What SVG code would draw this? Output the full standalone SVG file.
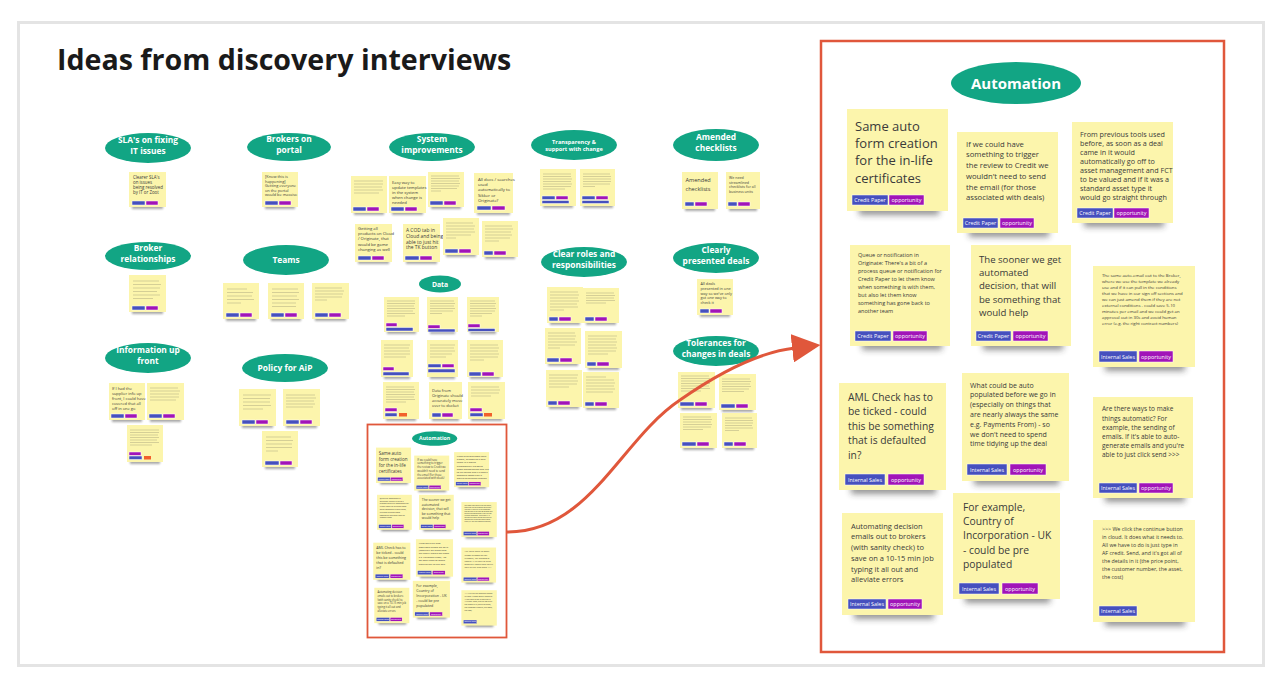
<svg xmlns="http://www.w3.org/2000/svg" width="1280" height="688" viewBox="0 0 1280 688">
<defs>
<filter id="bl" x="-30%" y="-200%" width="160%" height="500%"><feGaussianBlur stdDeviation="3"/></filter>
<filter id="bls" x="-30%" y="-200%" width="160%" height="500%"><feGaussianBlur stdDeviation="1.2"/></filter>
<marker id="ah" viewBox="0 0 10 10" refX="1" refY="5" markerWidth="9.5" markerHeight="9.5" markerUnits="strokeWidth" orient="auto"><path d="M0,0 L10,5 L0,10 z" fill="#E0573B"/></marker>
<style>
.n{fill:#FCF5AC}
.s{fill:#2a2a2a;opacity:.5;filter:url(#bl)}
.ss{fill:#2a2a2a;opacity:.4;filter:url(#bls)}
.b{fill:#4650BE;stroke:#fff;stroke-width:.5}
.p{fill:#A114B8;stroke:#fff;stroke-width:.5}
.o{fill:#F2602B}
.v{fill:#12A584}
.vt{fill:#fff;font-family:'Open Sans',sans-serif;font-weight:700;text-anchor:middle}
.t{font-family:'Open Sans',sans-serif;fill:#3a3a3a}
.tg{font-family:'Open Sans',sans-serif;fill:#fff;font-size:5.4px;text-anchor:middle}
.fl{stroke:#8f8b70;stroke-width:.8;opacity:.45;fill:none}
.fr{fill:#fff;stroke:#E0573B}
</style>
</defs>
<rect width="1280" height="688" fill="#fff"/>
<rect x="18.5" y="22.5" width="1245" height="643" fill="#fff" stroke="#E4E4E4" stroke-width="3"/>
<text x="57" y="70" font-family="'Open Sans',sans-serif" font-weight="700" font-size="28.6" fill="#1a1a1a">Ideas from discovery interviews</text>

<!-- left board ovals -->
<g id="o-sla"><ellipse class="v" cx="148" cy="148" rx="43" ry="15"/><text class="vt" font-size="8.4" x="148" y="143">SLA's on fixing<tspan x="148" dy="11">IT issues</tspan></text></g>
<g id="o-brokers-portal"><ellipse class="v" cx="289" cy="147" rx="42" ry="14"/><text class="vt" font-size="8.4" x="289" y="142">Brokers on<tspan x="289" dy="11">portal</tspan></text></g>
<g id="o-system"><ellipse class="v" cx="432" cy="147" rx="43" ry="14"/><text class="vt" font-size="8.4" x="432" y="142">System<tspan x="432" dy="11">improvements</tspan></text></g>
<g id="o-transparency"><ellipse class="v" cx="574" cy="145" rx="43" ry="15"/><text class="vt" font-size="5.6" x="574" y="143.5">Transparency &amp;<tspan x="574" dy="7.6">support with change</tspan></text></g>
<g id="o-amended"><ellipse class="v" cx="716" cy="145" rx="43" ry="16"/><text class="vt" font-size="8.4" x="716" y="140">Amended<tspan x="716" dy="11">checklists</tspan></text></g>
<g id="o-broker-rel"><ellipse class="v" cx="148" cy="256" rx="43" ry="14"/><text class="vt" font-size="8.4" x="148" y="251">Broker<tspan x="148" dy="11">relationships</tspan></text></g>
<g id="o-teams"><ellipse class="v" cx="286" cy="260" rx="43" ry="15"/><text class="vt" font-size="8.4" x="286" y="263">Teams</text></g>
<g id="o-clear-roles"><ellipse class="v" cx="584" cy="262" rx="43" ry="15"/><text class="vt" font-size="8.4" x="584" y="257">Clear roles and<tspan x="584" dy="11">responsibilities</tspan></text></g>
<g id="o-clearly"><ellipse class="v" cx="716" cy="258" rx="43" ry="15"/><text class="vt" font-size="8.4" x="716" y="253">Clearly<tspan x="716" dy="11">presented deals</tspan></text></g>
<g id="o-data"><ellipse class="v" cx="440" cy="284" rx="21" ry="8.5"/><text class="vt" font-size="6.8" x="440" y="286.5">Data</text></g>
<g id="o-info"><ellipse class="v" cx="148" cy="358" rx="43" ry="15"/><text class="vt" font-size="8.4" x="148" y="353">Information up<tspan x="148" dy="11">front</tspan></text></g>
<g id="o-policy"><ellipse class="v" cx="285" cy="368" rx="43" ry="14"/><text class="vt" font-size="8.4" x="285" y="371">Policy for AiP</text></g>
<g id="o-tolerances"><ellipse class="v" cx="716" cy="351" rx="43" ry="15"/><text class="vt" font-size="8.4" x="716" y="346">Tolerances for<tspan x="716" dy="11">changes in deals</tspan></text></g>

<!-- left board stickies -->
<g id="s-sla-1" transform="translate(129,172)"><rect class="ss" x="3" y="33" width="31" height="4"/><rect class="n" width="37" height="35"/><text class="t" font-size="4.4" x="4" y="7">Clearer SLA's<tspan x="4" dy="5">on issues</tspan><tspan x="4" dy="5">being resolved</tspan><tspan x="4" dy="5">by IT or Zoot</tspan></text><rect class="b" x="3" y="29" width="13" height="4"/><rect class="p" x="17" y="29" width="12" height="4"/></g>
<g id="s-portal-1" transform="translate(262,172)"><rect class="ss" x="3" y="33" width="30" height="4"/><rect class="n" width="36" height="35"/><text class="t" font-size="3.9" x="3" y="6">[Know this is<tspan x="3" dy="4.6">happening]</tspan><tspan x="3" dy="4.6">Getting everyone</tspan><tspan x="3" dy="4.6">on the portal</tspan><tspan x="3" dy="4.6">would be massive</tspan></text><rect class="b" x="3" y="29" width="13" height="4"/><rect class="p" x="17" y="29" width="12" height="4"/></g>
<g id="s-brel-1" transform="translate(129,275)"><rect class="ss" x="3" y="35" width="31" height="4"/><rect class="n" width="37" height="37"/><path class="fl" d="M4 6h26M4 9.5h28M4 13h27M4 16.5h24M4 20h27M4 23.5h20"/><rect class="b" x="3" y="31" width="13" height="4"/><rect class="p" x="17" y="31" width="12" height="4"/></g>
<g id="s-teams-1" transform="translate(223,283)"><rect class="ss" x="3" y="34" width="30" height="4"/><rect class="n" width="36" height="36"/><path class="fl" d="M4 6h20M4 9.5h26M4 13h25M4 16.5h27M4 20h14"/><rect class="b" x="3" y="30" width="13" height="4"/><rect class="p" x="17" y="30" width="12" height="4"/></g>
<g id="s-teams-2" transform="translate(268,283)"><rect class="ss" x="3" y="34" width="30" height="4"/><rect class="n" width="36" height="36"/><path class="fl" d="M4 6h26M4 9.5h27M4 13h25M4 16.5h27M4 20h24M4 23.5h24"/><rect class="b" x="3" y="30" width="13" height="4"/><rect class="p" x="17" y="30" width="12" height="4"/></g>
<g id="s-teams-3" transform="translate(312,283)"><rect class="ss" x="3" y="34" width="31" height="4"/><rect class="n" width="37" height="36"/><path class="fl" d="M3 5h27M3 8h29M3 11h28M3 14h27M3 17h12"/><rect class="b" x="3" y="30" width="13" height="4"/><rect class="p" x="17" y="30" width="12" height="4"/></g>
<g id="s-info-1" transform="translate(109,383)"><rect class="ss" x="3" y="35" width="30" height="4"/><rect class="n" width="36" height="37"/><text class="t" font-size="4" x="3" y="7">If I had the<tspan x="3" dy="5">supplier info up</tspan><tspan x="3" dy="5">front, I could have</tspan><tspan x="3" dy="5">covered that all</tspan><tspan x="3" dy="5">off in one go</tspan></text><rect class="b" x="2" y="31" width="13" height="4"/><rect class="p" x="16" y="31" width="12" height="4"/></g>
<g id="s-info-2" transform="translate(147,383)"><rect class="ss" x="3" y="35" width="31" height="4"/><rect class="n" width="37" height="37"/><path class="fl" d="M3 5h28M3 8h30M3 11h29M3 14h29M3 17h26"/><rect class="b" x="2" y="31" width="13" height="4"/><rect class="p" x="16" y="31" width="12" height="4"/></g>
<g id="s-info-3" transform="translate(127,425)"><rect class="ss" x="3" y="35" width="30" height="4"/><rect class="n" width="36" height="37"/><path class="fl" d="M3 5h29M3 7.5h29M3 10h28M3 12.5h29M3 15h27M3 17.5h29M3 20h22"/><rect class="p" x="2" y="27" width="12" height="3.5"/><rect class="b" x="2" y="31" width="13" height="3.5"/><rect class="o" x="17" y="31" width="7" height="3.5"/></g>
<g id="s-policy-1" transform="translate(239,389)"><rect class="ss" x="3" y="35" width="31" height="4"/><rect class="n" width="37" height="37"/><path class="fl" d="M4 6h28M4 9.5h27M4 13h27M4 16.5h28M4 20h20"/><rect class="b" x="3" y="31" width="13" height="4"/><rect class="p" x="17" y="31" width="12" height="4"/></g>
<g id="s-policy-2" transform="translate(283,389)"><rect class="ss" x="3" y="35" width="31" height="4"/><rect class="n" width="37" height="37"/><path class="fl" d="M3 6h29M3 9h30M3 12h28M3 15h29M3 18h27"/><rect class="b" x="3" y="31" width="13" height="4"/><rect class="p" x="17" y="31" width="12" height="4"/></g>
<g id="s-policy-3" transform="translate(262,431)"><rect class="ss" x="3" y="34" width="30" height="4"/><rect class="n" width="36" height="36"/><path class="fl" d="M4 6h25M4 9.5h27M4 13h26M4 16.5h26M4 20h12"/><rect class="b" x="3" y="30" width="14" height="4"/><rect class="p" x="18" y="30" width="12" height="4"/></g>
<g id="s-sys-1" transform="translate(351,176)"><rect class="ss" x="3" y="35" width="30" height="4"/><rect class="n" width="36" height="37"/><path class="fl" d="M3 5h29M3 8h29M3 11h28M3 14h29M3 17h25"/><rect class="b" x="2" y="31" width="13" height="4"/><rect class="p" x="16" y="31" width="12" height="4"/></g>
<g id="s-sys-2" transform="translate(389,176)"><rect class="ss" x="3" y="35" width="31" height="4"/><rect class="n" width="37" height="37"/><text class="t" font-size="4.2" x="3" y="7.5">Easy way to<tspan x="3" dy="5">update templates</tspan><tspan x="3" dy="5">in the system</tspan><tspan x="3" dy="5">when change is</tspan><tspan x="3" dy="5">needed</tspan></text><rect class="b" x="2" y="31" width="13" height="4"/><rect class="p" x="16" y="31" width="12" height="4"/></g>
<g id="s-sys-3" transform="translate(428,172)"><rect class="ss" x="3" y="33" width="30" height="4"/><rect class="n" width="36" height="35"/><path class="fl" d="M3 4h28M3 6.5h29M3 9h28M3 11.5h29M3 14h28M3 16.5h26M3 19h10"/><rect class="b" x="2" y="29" width="13" height="4"/><rect class="p" x="16" y="29" width="12" height="4"/></g>
<g id="s-sys-4" transform="translate(474,173)"><rect class="ss" x="3" y="38" width="33" height="4"/><rect class="n" width="39" height="40"/><text class="t" font-size="4.3" x="4" y="8">All docs / searches<tspan x="4" dy="5.2">used</tspan><tspan x="4" dy="5.2">automatically to</tspan><tspan x="4" dy="5.2">Sikker or</tspan><tspan x="4" dy="5.2">Originate?</tspan></text><rect class="b" x="3" y="33" width="14" height="4"/><rect class="p" x="18" y="33" width="13" height="4"/></g>
<g id="s-sys-5" transform="translate(355,224)"><rect class="ss" x="3" y="36" width="31" height="4"/><rect class="n" width="37" height="38"/><text class="t" font-size="4.2" x="3" y="6">Getting all<tspan x="3" dy="5.2">products on Cloud</tspan><tspan x="3" dy="5.2">/ Originate, that</tspan><tspan x="3" dy="5.2">would be game</tspan><tspan x="3" dy="5.2">changing as well</tspan></text><rect class="b" x="3" y="32" width="13" height="4"/><rect class="p" x="17" y="32" width="12" height="4"/></g>
<g id="s-sys-6" transform="translate(403,224)"><rect class="ss" x="3" y="36" width="31" height="4"/><rect class="n" width="37" height="38"/><text class="t" font-size="4.9" x="3" y="8">A COD tab in<tspan x="3" dy="5.8">Cloud and being</tspan><tspan x="3" dy="5.8">able to just hit</tspan><tspan x="3" dy="5.8">the TK button</tspan></text><rect class="b" x="2" y="32" width="14" height="4"/><rect class="p" x="17" y="32" width="12" height="4"/></g>
<g id="s-sys-7" transform="translate(443,218)"><rect class="ss" x="3" y="35" width="30" height="4"/><rect class="n" width="36" height="37"/><path class="fl" d="M3 5h27M3 8h29M3 11h28M3 14h29M3 17h25M3 20h10"/><rect class="b" x="2" y="31" width="13" height="4"/><rect class="p" x="16" y="31" width="12" height="4"/></g>
<g id="s-sys-8" transform="translate(482,221)"><rect class="ss" x="3" y="34" width="30" height="4"/><rect class="n" width="36" height="36"/><path class="fl" d="M3 5h27M3 8h28M3 11h26M3 14h27M3 17h25M3 20h14"/><rect class="b" x="2" y="30" width="9" height="4"/><rect class="p" x="12" y="30" width="12" height="4"/></g>
<g id="s-tr-1" transform="translate(540,169)"><rect class="ss" x="3" y="35" width="30" height="4"/><rect class="n" width="36" height="37"/><path class="fl" d="M3 5h28M3 7.5h28M3 10h29M3 12.5h28M3 15h29M3 17.5h28M3 20h22"/><rect class="b" x="2" y="27" width="13" height="3.5"/><rect class="p" x="16" y="27" width="12" height="3.5"/><rect class="b" x="2" y="31.5" width="27" height="3"/></g>
<g id="s-tr-2" transform="translate(580,169)"><rect class="ss" x="3" y="35" width="30" height="4"/><rect class="n" width="35" height="37"/><path class="fl" d="M3 5h27M3 7.5h28M3 10h28M3 12.5h28M3 15h27M3 17.5h12"/><rect class="b" x="2" y="27" width="13" height="3.5"/><rect class="p" x="16" y="27" width="12" height="3.5"/><rect class="b" x="2" y="31.5" width="27" height="3"/></g>
<g id="s-am-1" transform="translate(682,172)"><rect class="ss" x="3" y="35" width="30" height="4"/><rect class="n" width="36" height="37"/><text class="t" font-size="5.6" x="3.5" y="10">Amended<tspan x="3.5" dy="9">checklists</tspan></text><rect class="b" x="3" y="30" width="9" height="4"/><rect class="p" x="13" y="30" width="12" height="4"/></g>
<g id="s-am-2" transform="translate(726,172)"><rect class="ss" x="3" y="35" width="28" height="4"/><rect class="n" width="34" height="37"/><text class="t" font-size="3.6" x="3" y="7">We need<tspan x="3" dy="4.6">streamlined</tspan><tspan x="3" dy="4.6">checklists for all</tspan><tspan x="3" dy="4.6">business units</tspan></text><rect class="b" x="2" y="30" width="9" height="4"/><rect class="p" x="12" y="30" width="12" height="4"/></g>
<g id="s-cr-1" transform="translate(547,287)"><rect class="ss" x="3" y="34" width="30" height="4"/><rect class="n" width="36" height="36"/><path class="fl" d="M3 5h28M3 8h29M3 11h28M3 14h29M3 17h27M3 20h28M3 23h14"/><rect class="b" x="2" y="30" width="9" height="4"/><rect class="p" x="12" y="30" width="12" height="4"/></g>
<g id="s-cr-2" transform="translate(583,288)"><rect class="ss" x="3" y="33" width="30" height="4"/><rect class="n" width="36" height="35"/><path class="fl" d="M3 5h28M3 7.5h29M3 10h28M3 12.5h29M3 15h20"/><rect class="b" x="2" y="29" width="9" height="4"/><rect class="p" x="12" y="29" width="12" height="4"/></g>
<g id="s-cr-3" transform="translate(545,328)"><rect class="ss" x="3" y="34" width="30" height="4"/><rect class="n" width="36" height="36"/><path class="fl" d="M3 5h27M3 8h28M3 11h27M3 14h29M3 17h27M3 20h12"/><rect class="b" x="2" y="30" width="12" height="4"/><rect class="p" x="15" y="30" width="12" height="4"/></g>
<g id="s-cr-4" transform="translate(585,331)"><rect class="ss" x="3" y="35" width="31" height="4"/><rect class="n" width="37" height="37"/><path class="fl" d="M3 5h29M3 8h28M3 11h29M3 14h28M3 17h29M3 20h28M3 23h20"/><rect class="b" x="2" y="31" width="9" height="4"/><rect class="p" x="12" y="31" width="12" height="4"/></g>
<g id="s-cr-5" transform="translate(546,370)"><rect class="ss" x="3" y="35" width="30" height="4"/><rect class="n" width="36" height="37"/><path class="fl" d="M3 5h29M3 8h28M3 11h29M3 14h28M3 17h20"/><rect class="b" x="2" y="31" width="9" height="4"/><rect class="p" x="12" y="31" width="12" height="4"/></g>
<g id="s-cr-6" transform="translate(583,372)"><rect class="ss" x="3" y="34" width="30" height="4"/><rect class="n" width="36" height="36"/><path class="fl" d="M3 5h20M3 8h28M3 11h29M3 14h28M3 17h29M3 20h27"/><rect class="b" x="2" y="30" width="9" height="4"/><rect class="p" x="12" y="30" width="12" height="4"/></g>
<g id="s-cp-1" transform="translate(697,279)"><rect class="ss" x="3" y="34" width="30" height="4"/><rect class="n" width="36" height="36"/><text class="t" font-size="3.8" x="3.5" y="6">All deals<tspan x="3.5" dy="4.8">presented in one</tspan><tspan x="3.5" dy="4.8">way so we've only</tspan><tspan x="3.5" dy="4.8">got one way to</tspan><tspan x="3.5" dy="4.8">check it</tspan></text><rect class="b" x="3" y="30" width="9" height="4"/><rect class="p" x="13" y="30" width="12" height="4"/></g>
<g id="s-tol-1" transform="translate(678,372)"><rect class="ss" x="3" y="34" width="31" height="4"/><rect class="n" width="37" height="36"/><path class="fl" d="M3 4h28M3 6.5h29M3 9h28M3 11.5h29M3 14h28M3 16.5h29M3 19h20"/><rect class="b" x="2" y="30" width="14" height="4"/><rect class="p" x="17" y="30" width="12" height="4"/></g>
<g id="s-tol-2" transform="translate(719,374)"><rect class="ss" x="3" y="34" width="31" height="4"/><rect class="n" width="37" height="36"/><path class="fl" d="M3 5h28M3 7.5h29M3 10h28M3 12.5h29M3 15h27M3 17.5h22"/><rect class="b" x="2" y="30" width="14" height="4"/><rect class="p" x="17" y="30" width="12" height="4"/></g>
<g id="s-tol-3" transform="translate(680,413)"><rect class="ss" x="3" y="33" width="31" height="4"/><rect class="n" width="37" height="35"/><path class="fl" d="M3 4h28M3 6.5h29M3 9h28M3 11.5h29M3 14h28M3 16.5h20"/><rect class="b" x="2" y="29" width="14" height="4"/><rect class="p" x="17" y="29" width="12" height="4"/></g>
<g id="s-tol-4" transform="translate(722,413)"><rect class="ss" x="3" y="33" width="29" height="4"/><rect class="n" width="35" height="35"/><path class="fl" d="M3 5h27M3 7.5h28M3 10h28M3 12.5h27M3 15h28M3 17.5h14"/><rect class="b" x="2" y="29" width="9" height="4"/><rect class="p" x="12" y="29" width="12" height="4"/></g>
<g id="s-data-1" transform="translate(384,297)"><rect class="ss" x="3" y="33" width="29" height="4"/><rect class="n" width="35" height="35"/><path class="fl" d="M3 4h28M3 6.5h28M3 9h27M3 11.5h28M3 14h26M3 16.5h28M3 19h18"/><rect class="p" x="2" y="26" width="11" height="3.5"/><rect class="b" x="2" y="30.5" width="27" height="3.5"/></g>
<g id="s-data-2" transform="translate(427,297)"><rect class="ss" x="3" y="33" width="25" height="4"/><rect class="n" width="31" height="35"/><path class="fl" d="M3 4h24M3 6.5h25M3 9h24M3 11.5h25M3 14h23M3 16.5h12"/><rect class="p" x="1" y="28" width="12" height="3.5"/><rect class="b" x="1" y="32" width="27" height="3"/></g>
<g id="s-data-3" transform="translate(467,297)"><rect class="ss" x="3" y="33" width="26" height="4"/><rect class="n" width="32" height="35"/><path class="fl" d="M3 4h25M3 6.5h26M3 9h25M3 11.5h26M3 14h25M3 16.5h22M3 19h12"/><rect class="p" x="1" y="27" width="12" height="3.5"/><rect class="b" x="1" y="31.5" width="27" height="3"/></g>
<g id="s-data-4" transform="translate(381,340)"><rect class="ss" x="3" y="35" width="26" height="4"/><rect class="n" width="32" height="37"/><path class="fl" d="M3 5h26M3 8h25M3 11h26M3 14h26M3 17h22"/><rect class="p" x="2" y="27" width="11" height="3.5"/><rect class="b" x="2" y="32" width="26" height="3.5"/></g>
<g id="s-data-5" transform="translate(427,340)"><rect class="ss" x="3" y="35" width="25" height="4"/><rect class="n" width="31" height="37"/><path class="fl" d="M3 5h25M3 8h24M3 11h25M3 14h22M3 17h16"/><rect class="b" x="1" y="24" width="13" height="3.5"/><rect class="p" x="15" y="24" width="12" height="3.5"/><rect class="b" x="1" y="29" width="27" height="3.5"/></g>
<g id="s-data-6" transform="translate(467,340)"><rect class="ss" x="3" y="35" width="30" height="4"/><rect class="n" width="36" height="37"/><path class="fl" d="M3 5h28M3 8h29M3 11h28M3 14h29M3 17h28M3 20h14"/><rect class="b" x="2" y="32" width="12" height="4"/><rect class="p" x="15" y="32" width="12" height="4"/></g>
<g id="s-data-7" transform="translate(383,382)"><rect class="ss" x="3" y="35" width="30" height="4"/><rect class="n" width="36" height="37"/><path class="fl" d="M3 5h28M3 7.5h29M3 10h28M3 12.5h29M3 15h28M3 17.5h29M3 20h20"/><rect class="p" x="2" y="26" width="12" height="3.5"/><rect class="b" x="2" y="31" width="12" height="3.5"/><rect class="o" x="16" y="31" width="8" height="3.5"/></g>
<g id="s-data-8" transform="translate(429,382)"><rect class="ss" x="3" y="35" width="27" height="4"/><rect class="n" width="33" height="37"/><text class="t" font-size="4" x="3" y="10">Data from<tspan x="3" dy="5">Originate should</tspan><tspan x="3" dy="5">accurately move</tspan><tspan x="3" dy="5">over to docket</tspan></text><rect class="b" x="3" y="31" width="9" height="4"/><rect class="p" x="13" y="31" width="11" height="4"/></g>
<g id="s-data-9" transform="translate(468,382)"><rect class="ss" x="3" y="35" width="31" height="4"/><rect class="n" width="37" height="37"/><path class="fl" d="M3 5h28M3 8h29M3 11h28M3 14h20"/><rect class="p" x="2" y="26" width="12" height="3.5"/><rect class="b" x="2" y="31" width="13" height="3.5"/><rect class="o" x="16" y="31" width="8" height="3.5"/></g>

<!-- frames -->
<rect class="fr" x="821" y="41" width="403" height="611" stroke-width="2.5"/>
<rect class="fr" x="367.5" y="424.5" width="139" height="213" stroke-width="1.8"/>

<!-- automation board (big) -->
<g id="automation-board">
<g id="o-automation"><ellipse class="v" cx="1016" cy="83" rx="65" ry="21"/><text class="vt" font-size="15" x="1016" y="88.5">Automation</text></g>
<g id="n-a1" transform="translate(847,109)"><rect class="s" x="12" y="96" width="80" height="10"/><rect class="n" width="101" height="102"/><text class="t" font-size="13" x="8" y="21.5">Same auto<tspan x="8" dy="17.4">form creation</tspan><tspan x="8" dy="17.4">for the in-life</tspan><tspan x="8" dy="17.4">certificates</tspan></text><rect class="b" x="5" y="86" width="36" height="10"/><text class="tg" x="23" y="93">Credit Paper</text><rect class="p" x="42" y="86" width="35" height="10"/><text class="tg" x="59.5" y="93">opportunity</text></g>
<g id="n-a2" transform="translate(957,132)"><rect class="s" x="12" y="95" width="80" height="10"/><rect class="n" width="101" height="101"/><text class="t" font-size="7.7" x="9" y="14.7">If we could have<tspan x="9" dy="10.7">something to trigger</tspan><tspan x="9" dy="10.7">the review to Credit we</tspan><tspan x="9" dy="10.7">wouldn't need to send</tspan><tspan x="9" dy="10.7">the email (for those</tspan><tspan x="9" dy="10.7">associated with deals)</tspan></text><rect class="b" x="6" y="86" width="35" height="10"/><text class="tg" x="23.5" y="93">Credit Paper</text><rect class="p" x="43" y="86" width="34" height="10"/><text class="tg" x="60" y="93">opportunity</text></g>
<g id="n-a3" transform="translate(1072,122)"><rect class="s" x="12" y="95" width="80" height="10"/><rect class="n" width="101" height="101"/><text class="t" font-size="7.2" x="8" y="14.5">From previous tools used<tspan x="8" dy="9.1">before, as soon as a deal</tspan><tspan x="8" dy="9.1">came in it would</tspan><tspan x="8" dy="9.1">automatically go off to</tspan><tspan x="8" dy="9.1">asset management and FCT</tspan><tspan x="8" dy="9.1">to be valued and if it was a</tspan><tspan x="8" dy="9.1">standard asset type it</tspan><tspan x="8" dy="9.1">would go straight through</tspan></text><rect class="b" x="5" y="86" width="36" height="10"/><text class="tg" x="23" y="93">Credit Paper</text><rect class="p" x="42" y="86" width="35" height="10"/><text class="tg" x="59.5" y="93">opportunity</text></g>
<g id="n-a4" transform="translate(850,245)"><rect class="s" x="12" y="95" width="80" height="10"/><rect class="n" width="100" height="101"/><text class="t" font-size="5.5" x="8" y="12">Queue or notification in<tspan x="8" dy="8">Originate: There's a bit of a</tspan><tspan x="8" dy="8">process queue or notification for</tspan><tspan x="8" dy="8">Credit Paper to let them know</tspan><tspan x="8" dy="8">when something is with them,</tspan><tspan x="8" dy="8">but also let them know</tspan><tspan x="8" dy="8">something has gone back to</tspan><tspan x="8" dy="8">another team</tspan></text><rect class="b" x="5" y="86" width="36" height="10"/><text class="tg" x="23" y="93">Credit Paper</text><rect class="p" x="43" y="86" width="34" height="10"/><text class="tg" x="60" y="93">opportunity</text></g>
<g id="n-a5" transform="translate(971,245)"><rect class="s" x="12" y="95" width="80" height="10"/><rect class="n" width="100" height="101"/><text class="t" font-size="9.6" x="8" y="17.5">The sooner we get<tspan x="8" dy="13.4">automated</tspan><tspan x="8" dy="13.4">decision, that will</tspan><tspan x="8" dy="13.4">be something that</tspan><tspan x="8" dy="13.4">would help</tspan></text><rect class="b" x="5" y="86" width="35" height="10"/><text class="tg" x="22.5" y="93">Credit Paper</text><rect class="p" x="42" y="86" width="35" height="10"/><text class="tg" x="59.5" y="93">opportunity</text></g>
<g id="n-a6" transform="translate(1093,266)"><rect class="s" x="12" y="95" width="80" height="10"/><rect class="n" width="102" height="101"/><text class="t" font-size="4.3" x="9" y="10.5">The same auto-email out to the Broker,<tspan x="9" dy="6">where we use the template we already</tspan><tspan x="9" dy="6">use and if it can pull in the conditions</tspan><tspan x="9" dy="6">that we have in our sign off sections and</tspan><tspan x="9" dy="6">we can just amend them if they are not</tspan><tspan x="9" dy="6">external conditions - could save 5-10</tspan><tspan x="9" dy="6">minutes per email and we could get an</tspan><tspan x="9" dy="6">approval out in 30s and avoid human</tspan><tspan x="9" dy="6">error (e.g. the right contract numbers)</tspan></text><rect class="b" x="6" y="85" width="38" height="11"/><text class="tg" x="25" y="92.5">Internal Sales</text><rect class="p" x="46" y="85" width="34" height="11"/><text class="tg" x="63" y="92.5">opportunity</text></g>
<g id="n-a7" transform="translate(839,383)"><rect class="s" x="12" y="101" width="85" height="10"/><rect class="n" width="107" height="107"/><text class="t" font-size="10.3" x="9" y="17.7">AML Check has to<tspan x="9" dy="14.5">be ticked - could</tspan><tspan x="9" dy="14.5">this be something</tspan><tspan x="9" dy="14.5">that is defaulted</tspan><tspan x="9" dy="14.5">in?</tspan></text><rect class="b" x="6" y="91" width="40" height="11"/><text class="tg" x="26" y="98.5">Internal Sales</text><rect class="p" x="49" y="91" width="36" height="11"/><text class="tg" x="67" y="98.5">opportunity</text></g>
<g id="n-a8" transform="translate(962,373)"><rect class="s" x="12" y="102" width="85" height="10"/><rect class="n" width="107" height="108"/><text class="t" font-size="7" x="8" y="14.5">What could be auto<tspan x="8" dy="9.8">populated before we go in</tspan><tspan x="8" dy="9.8">(especially on things that</tspan><tspan x="8" dy="9.8">are nearly always the same</tspan><tspan x="8" dy="9.8">e.g. Payments From)  - so</tspan><tspan x="8" dy="9.8">we don't need to spend</tspan><tspan x="8" dy="9.8">time tidying up the deal</tspan></text><rect class="b" x="5" y="91" width="40" height="11"/><text class="tg" x="25" y="98.5">Internal Sales</text><rect class="p" x="48" y="91" width="36" height="11"/><text class="tg" x="66" y="98.5">opportunity</text></g>
<g id="n-a9" transform="translate(1093,397)"><rect class="s" x="12" y="95" width="80" height="10"/><rect class="n" width="100" height="101"/><text class="t" font-size="6.5" x="9" y="14.3">Are there ways to make<tspan x="9" dy="9.2">things automatic? For</tspan><tspan x="9" dy="9.2">example, the sending of</tspan><tspan x="9" dy="9.2">emails. If it's able to auto-</tspan><tspan x="9" dy="9.2">generate emails and you're</tspan><tspan x="9" dy="9.2">able to just click send &gt;&gt;&gt;</tspan></text><rect class="b" x="6" y="86" width="38" height="10"/><text class="tg" x="25" y="93">Internal Sales</text><rect class="p" x="46" y="86" width="34" height="10"/><text class="tg" x="63" y="93">opportunity</text></g>
<g id="n-a10" transform="translate(842,513)"><rect class="s" x="12" y="96" width="80" height="10"/><rect class="n" width="101" height="102"/><text class="t" font-size="7.5" x="9" y="15.7">Automating decision<tspan x="9" dy="10.7">emails out to brokers</tspan><tspan x="9" dy="10.7">(with sanity check) to</tspan><tspan x="9" dy="10.7">save on a 10-15 min job</tspan><tspan x="9" dy="10.7">typing it all out and</tspan><tspan x="9" dy="10.7">alleviate errors</tspan></text><rect class="b" x="6" y="86" width="38" height="10"/><text class="tg" x="25" y="93">Internal Sales</text><rect class="p" x="46" y="86" width="34" height="10"/><text class="tg" x="63" y="93">opportunity</text></g>
<g id="n-a11" transform="translate(953,493)"><rect class="s" x="12" y="100" width="85" height="10"/><rect class="n" width="107" height="106"/><text class="t" font-size="10.3" x="10" y="17.6">For example,<tspan x="10" dy="14.3">Country of</tspan><tspan x="10" dy="14.3">Incorporation - UK</tspan><tspan x="10" dy="14.3">- could be pre</tspan><tspan x="10" dy="14.3">populated</tspan></text><rect class="b" x="6" y="90" width="40" height="11"/><text class="tg" x="26" y="97.5">Internal Sales</text><rect class="p" x="49" y="90" width="36" height="11"/><text class="tg" x="67" y="97.5">opportunity</text></g>
<g id="n-a12" transform="translate(1093,520)"><rect class="s" x="12" y="96" width="80" height="10"/><rect class="n" width="102" height="102"/><text class="t" font-size="5.3" x="9" y="11">&gt;&gt;&gt; We click the continue button<tspan x="9" dy="8">in cloud. It does what it needs to.</tspan><tspan x="9" dy="8">All we have to do is just type in</tspan><tspan x="9" dy="8">AF credit. Send, and it's got all of</tspan><tspan x="9" dy="8">the details in it (the price point,</tspan><tspan x="9" dy="8">the customer number, the asset,</tspan><tspan x="9" dy="8">the cost)</tspan></text><rect class="b" x="6" y="86" width="38" height="10"/><text class="tg" x="25" y="93">Internal Sales</text></g>
</g>

<!-- small copy of automation board -->
<use href="#automation-board" transform="translate(367,424) scale(0.347) translate(-821,-41)"/>

<!-- connectors -->
<g id="connectors">
<path d="M507,532 C590,532 620,440 680,400 C720,372 760,352 795,348" fill="none" stroke="#E0573B" stroke-width="3" marker-end="url(#ah)"/>
</g>
</svg>
